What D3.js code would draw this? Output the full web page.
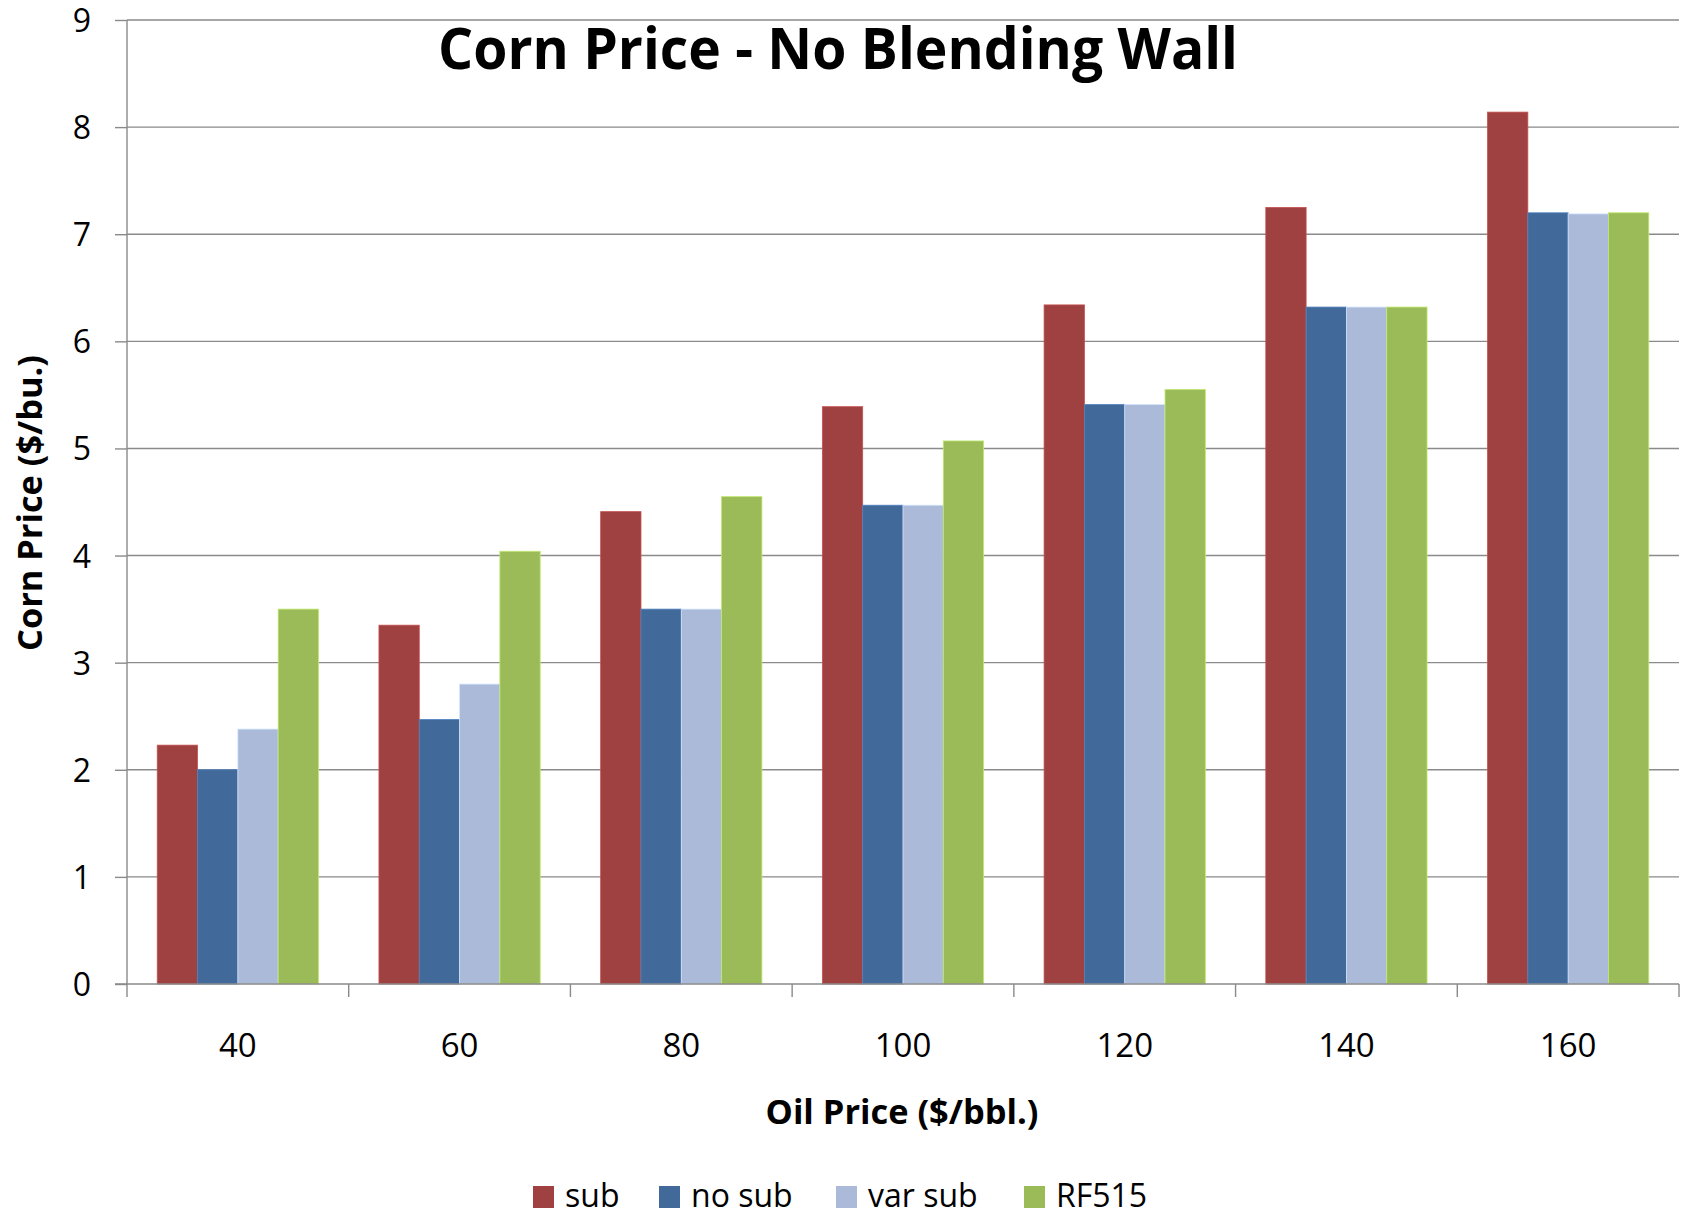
<!DOCTYPE html>
<html>
<head>
<meta charset="utf-8">
<script src="https://cdn.jsdelivr.net/npm/d3@7"></script>
<style>
  html, body { margin: 0; padding: 0; background: #ffffff; }
  svg { display: block; font-family: "Open Sans", "Noto Sans", sans-serif; }
</style>
</head>
<body>
<svg id="chart" width="1688" height="1217"></svg>
<script>
// Oil price scenarios ($/bbl.) on the category axis
const categories = ["40", "60", "80", "100", "120", "140", "160"];

// Policy scenarios
const seriesNames = ["sub", "no sub", "var sub", "RF515"];
const seriesColors = ["#9e4140", "#416a9b", "#aabad8", "#9bbb59"];

// Corn price ($/bu.) per scenario, one value per oil price
const subValues    = [2.23, 3.35, 4.41, 5.39, 6.34, 7.25, 8.14];
const noSubValues  = [2.00, 2.47, 3.50, 4.47, 5.41, 6.32, 7.20];
const varSubValues = [2.38, 2.80, 3.50, 4.47, 5.41, 6.32, 7.19];
const rf515Values  = [3.50, 4.04, 4.55, 5.07, 5.55, 6.32, 7.20];

const yTicks = [0, 1, 2, 3, 4, 5, 6, 7, 8, 9];

const seriesValues = [subValues, noSubValues, varSubValues, rf515Values];

const svg = d3.select("#chart");
const plot = { left: 127, right: 1679, top: 20, bottom: 984 };

const x0 = d3.scaleBand()
  .domain(categories)
  .range([plot.left, plot.right])
  .paddingInner(0)
  .paddingOuter(0);

const x1 = d3.scaleBand()
  .domain(seriesNames)
  .range([0, x0.bandwidth()])
  .paddingInner(0)
  .paddingOuter(0.75);

const y = d3.scaleLinear().domain([0, 9]).range([plot.bottom, plot.top]);

const color = d3.scaleOrdinal().domain(seriesNames).range(seriesColors);

const gridColor = "#8a8a8a";

// Horizontal gridlines
svg.append("g")
  .selectAll("line")
  .data(yTicks.filter(t => t > 0))
  .join("line")
  .attr("x1", plot.left)
  .attr("x2", plot.right)
  .attr("y1", d => y(d))
  .attr("y2", d => y(d))
  .attr("stroke", gridColor)
  .attr("stroke-width", 1.4);

// Bars
const rows = categories.map((c, i) => ({
  category: c,
  values: seriesNames.map((s, j) => ({ series: s, value: seriesValues[j][i] }))
}));

svg.append("g")
  .selectAll("g")
  .data(rows)
  .join("g")
  .attr("transform", d => `translate(${x0(d.category)},0)`)
  .selectAll("rect")
  .data(d => d.values)
  .join("rect")
  .attr("x", d => x1(d.series))
  .attr("y", d => y(d.value))
  .attr("width", x1.bandwidth())
  .attr("height", d => y(0) - y(d.value))
  .attr("fill", d => color(d.series))
  .attr("stroke", d => d3.color(color(d.series)).brighter(0.6))
  .attr("stroke-width", 0.8);

// Y axis
const yAxis = d3.axisLeft(y)
  .tickValues(yTicks)
  .tickSize(12)
  .tickPadding(24)
  .tickFormat(d3.format("d"));

const yg = svg.append("g")
  .attr("transform", `translate(${plot.left},0)`)
  .call(yAxis);
yg.select(".domain").attr("stroke", gridColor).attr("stroke-width", 1.4)
  .attr("d", `M0,${plot.top}V${plot.bottom}`);
yg.selectAll(".tick line").attr("stroke", gridColor).attr("stroke-width", 1.4);
yg.selectAll(".tick text")
  .attr("fill", "#000")
  .style("font-size", "32px")
  .style("font-family", "'Open Sans', sans-serif")
  .attr("dy", "0.36em");

// X axis: category labels centred, tick marks at the category boundaries
const xAxis = d3.axisBottom(x0).tickSize(0).tickPadding(50);
const xg = svg.append("g")
  .attr("transform", `translate(0,${plot.bottom})`)
  .call(xAxis);
xg.select(".domain").attr("stroke", gridColor).attr("stroke-width", 1.6)
  .attr("d", `M${plot.left - 12},0H${plot.right}`);
xg.selectAll(".tick text")
  .attr("fill", "#000")
  .style("font-size", "33px")
  .style("font-family", "'Open Sans', sans-serif");

const boundaries = categories.map(c => x0(c)).concat([x0(categories[categories.length - 1]) + x0.bandwidth()]);
xg.append("g")
  .selectAll("line")
  .data(boundaries)
  .join("line")
  .attr("x1", d => d)
  .attr("x2", d => d)
  .attr("y1", 0)
  .attr("y2", 13)
  .attr("stroke", gridColor)
  .attr("stroke-width", 1.4);

// Chart title
svg.append("text")
  .attr("x", 838)
  .attr("y", 69)
  .attr("text-anchor", "middle")
  .attr("font-weight", "bold")
  .attr("font-size", 58)
  .attr("textLength", 800)
  .attr("lengthAdjust", "spacingAndGlyphs")
  .text("Corn Price - No Blending Wall");

// Axis titles
svg.append("text")
  .attr("x", 902)
  .attr("y", 1124)
  .attr("text-anchor", "middle")
  .attr("font-weight", "bold")
  .attr("font-size", 34)
  .attr("textLength", 273)
  .attr("lengthAdjust", "spacingAndGlyphs")
  .text("Oil Price ($/bbl.)");

svg.append("text")
  .attr("transform", "translate(42,503) rotate(-90)")
  .attr("text-anchor", "middle")
  .attr("font-weight", "bold")
  .attr("font-size", 34)
  .attr("textLength", 296)
  .attr("lengthAdjust", "spacingAndGlyphs")
  .text("Corn Price ($/bu.)");

// Legend
const legendX = [533, 659, 836, 1024];
const legend = svg.append("g")
  .selectAll("g")
  .data(seriesNames)
  .join("g")
  .attr("transform", (d, i) => `translate(${legendX[i]},1186)`);

legend.append("rect")
  .attr("width", 21)
  .attr("height", 22)
  .attr("fill", d => color(d));

legend.append("text")
  .attr("x", 32)
  .attr("y", 21)
  .attr("font-size", 32)
  .attr("fill", "#000")
  .text(d => d);
</script>
</body>
</html>
